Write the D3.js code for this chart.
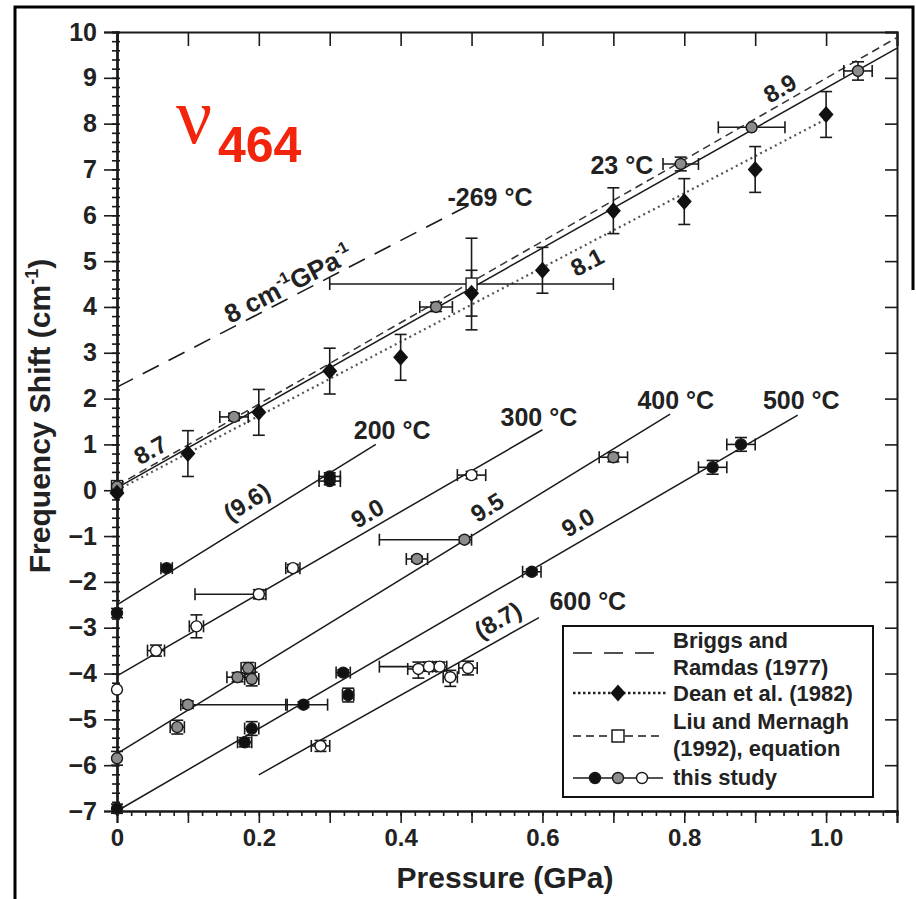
<!DOCTYPE html>
<html><head><meta charset="utf-8">
<script src="https://cdn.jsdelivr.net/npm/d3@7"></script>
<style>
body{margin:0;background:#fff;}
</style></head><body>
<svg id="c" width="916" height="899"></svg>
<script>
// ---------------- DATA ----------------
const xTicksMajor = [0,0.1,0.2,0.3,0.4,0.5,0.6,0.7,0.8,0.9,1.0,1.1];
const xTickLabels = [0,0.2,0.4,0.6,0.8,1.0];
const yTicks = [-7,-6,-5,-4,-3,-2,-1,0,1,2,3,4,5,6,7,8,9,10];

// reference lines [pressure GPa, shift cm-1]
const briggsLine = [[0,2.25],[0.5,6.25]];
const deanLine   = [[0,0.0],[1.0,8.1]];
const liuLine    = [[0,0.1],[1.1,9.88]];
// this-study fits per temperature
const fit23  = [[0,0.05],[1.1,9.65]];
const fit200 = [[0,-2.5],[0.365,1.0]];
const fit300 = [[0,-4.05],[0.6,1.32]];
const fit400 = [[0,-5.75],[0.78,1.66]];
const fit500 = [[0,-7.0],[0.96,1.64]];
const fit600 = [[0.2,-6.21],[0.595,-2.78]];

// Dean et al. (1982): [P, shift, yErr]
const deanPts = [[0,-0.06,0],[0.1,0.8,0.5],[0.2,1.7,0.5],[0.3,2.6,0.5],[0.4,2.9,0.5],[0.5,4.3,0.5],[0.6,4.8,0.5],[0.7,6.1,0.5],[0.8,6.3,0.5],[0.9,7.0,0.5],[1.0,8.2,0.5]];
// Liu and Mernagh (1992): [P, shift, xErrL, xErrR, yErrD, yErrU]
const liuPts = [[0,0.08,0,0,0,0],[0.5,4.5,0.2,0.2,1.0,1.0]];
// this study: [P, shift, xErrL, xErrR, yErrD, yErrU]
const pts23 = [[0,0.08,0,0,0,0],[0.165,1.6,0.02,0.02,0.08,0.08],[0.45,4.0,0.023,0.023,0.1,0.1],[0.795,7.12,0.025,0.025,0.15,0.15],[0.895,7.92,0.047,0.047,0,0],[1.045,9.15,0.02,0.02,0.2,0.2]];
const pts200 = [[0,-2.68,0,0,0.1,0.1],[0.07,-1.7,0.008,0.008,0.06,0.06],[0.3,0.2,0.015,0.015,0.08,0.08],[0.3,0.3,0.015,0.015,0.08,0.08]];
const pts300 = [[0,-4.35,0,0,0,0],[0.055,-3.5,0.012,0.012,0.12,0.12],[0.112,-2.97,0.01,0.01,0.25,0.25],[0.2,-2.27,0.09,0.01,0.1,0.1],[0.248,-1.7,0.01,0.01,0.08,0.08],[0.5,0.33,0.02,0.02,0.08,0.08]];
const pts400 = [[0,-5.85,0,0,0.15,0.15],[0.085,-5.17,0.01,0.01,0.15,0.15],[0.1,-4.68,0.01,0.14,0.08,0.08],[0.17,-4.08,0.015,0.015,0.1,0.1],[0.185,-3.88,0.01,0.01,0.12,0.12],[0.19,-4.12,0.01,0.01,0.15,0.15],[0.423,-1.5,0.015,0.015,0.06,0.06],[0.49,-1.08,0.12,0.01,0.06,0.06],[0.70,0.72,0.02,0.02,0.1,0.1]];
const pts500 = [[0,-6.95,0,0,0.1,0.1],[0.18,-5.5,0.01,0.01,0.1,0.1],[0.19,-5.2,0.01,0.01,0.15,0.15],[0.263,-4.68,0.025,0.034,0.06,0.06],[0.319,-3.98,0.01,0.01,0.06,0.06],[0.326,-4.47,0.008,0.008,0.15,0.15],[0.585,-1.78,0.013,0.013,0.06,0.06],[0.84,0.5,0.02,0.02,0.15,0.15],[0.88,1.0,0.02,0.02,0.15,0.15]];
const pts600 = [[0.287,-5.58,0.013,0.013,0.12,0.12],[0.425,-3.9,0.015,0.015,0.2,0.15],[0.44,-3.85,0.07,0.01,0.1,0.1],[0.455,-3.85,0.01,0.01,0.1,0.1],[0.47,-4.08,0.01,0.01,0.2,0.15],[0.495,-3.88,0.013,0.013,0.15,0.15]];

const slopeLabels = [
  {t:"8.7",  p:0.047, v:0.88,  s:8.7},
  {t:"8.9",  p:0.935, v:8.77,  s:8.9},
  {t:"8.1",  p:0.663, v:4.98,  s:8.1},
  {t:"(9.6)",p:0.183, v:-0.25, s:9.6},
  {t:"9.0",  p:0.353, v:-0.5,  s:9.0},
  {t:"9.5",  p:0.522, v:-0.37, s:9.5},
  {t:"9.0",  p:0.65,  v:-0.7,  s:9.0},
  {t:"(8.7)",p:0.537, v:-2.83, s:8.7}
];
const tempLabels = [
  {t:"-269 °C", p:0.526, v:6.4},
  {t:"23 °C",  p:0.712, v:7.1},
  {t:"200 °C", p:0.388, v:1.31},
  {t:"300 °C", p:0.595, v:1.6},
  {t:"400 °C", p:0.788, v:1.97},
  {t:"500 °C", p:0.965, v:1.97},
  {t:"600 °C", p:0.664, v:-2.42}
];

// ---------------- DRAW ----------------
const svg = d3.select("#c");
const x = d3.scaleLinear().domain([0,1.1]).range([117,897]);
const y = d3.scaleLinear().domain([-7,10]).range([811,32]);
const ink = "#1a1a1a";
const GREY = "#8c8c8c";
const SANS = "Liberation Sans, Arial, sans-serif";

function txt(sel){ return sel.style("font-family",SANS).style("font-weight","bold").style("fill","#222"); }

// outer frame
svg.append("path").attr("d","M15,899V7H913V290").attr("fill","none").attr("stroke","#000").attr("stroke-width",3);

// axes
function styleAxis(g){ g.select(".domain").attr("stroke",ink).attr("stroke-width",2); g.selectAll(".tick line").attr("stroke",ink).attr("stroke-width",1.6); }
const minorX = d3.range(0,1.1001,0.02).map(d=>+d.toFixed(2));
const minorY = d3.range(-7,10.001,0.2).map(d=>+d.toFixed(1));

// bottom
svg.append("g").attr("transform","translate(0,811)").call(d3.axisBottom(x).tickValues(minorX).tickSize(5).tickFormat("")).call(styleAxis);
svg.append("g").attr("transform","translate(0,811)").call(d3.axisBottom(x).tickValues(xTicksMajor).tickSize(12).tickFormat("")).call(styleAxis);
svg.append("g").attr("transform","translate(0,811)").call(d3.axisBottom(x).tickValues(xTickLabels).tickSize(0).tickPadding(18).tickFormat(d=>d===0?"0":d3.format(".1f")(d)))
  .call(g=>{g.select(".domain").remove(); txt(g.selectAll("text")).attr("font-size",24);});
// top
svg.append("g").attr("transform","translate(0,32)").call(d3.axisTop(x).tickValues(xTicksMajor).tickSize(-14).tickFormat("")).call(styleAxis);
// left
svg.append("g").attr("transform","translate(117,0)").call(d3.axisLeft(y).tickValues(minorY).tickSize(5).tickFormat("")).call(styleAxis);
svg.append("g").attr("transform","translate(117,0)").call(d3.axisLeft(y).tickValues(minorY).tickSize(-3).tickFormat("")).call(styleAxis);
svg.append("g").attr("transform","translate(117,0)").call(d3.axisLeft(y).tickValues(yTicks).tickSize(13).tickPadding(7).tickFormat(d3.format("d"))).call(styleAxis)
  .call(g=>txt(g.selectAll("text")).attr("font-size",25));
// right
svg.append("g").attr("transform","translate(897,0)").call(d3.axisRight(y).tickValues(yTicks).tickSize(-12).tickFormat("")).call(styleAxis);

// axis titles
txt(svg.append("text")).attr("x",505).attr("y",888).attr("text-anchor","middle").attr("font-size",30).text("Pressure (GPa)");
const yt = txt(svg.append("text")).attr("transform","translate(50,416) rotate(-90)").attr("text-anchor","middle").attr("font-size",30);
yt.append("tspan").text("Frequency Shift (cm");
yt.append("tspan").attr("font-size",18).attr("dy",-12).text("-1");
yt.append("tspan").attr("dy",12).text(")");

const line = d3.line().x(d=>x(d[0])).y(d=>y(d[1]));
const plot = svg.append("g");

// reference lines
plot.append("path").datum(briggsLine).attr("d",line).attr("fill","none").attr("stroke",ink).attr("stroke-width",1.6).attr("stroke-dasharray","18,11");
plot.append("path").datum(deanLine).attr("d",line).attr("fill","none").attr("stroke","#555").attr("stroke-width",2.2).attr("stroke-dasharray","2,3.5");
plot.append("path").datum(liuLine).attr("d",line).attr("fill","none").attr("stroke","#333").attr("stroke-width",1.5).attr("stroke-dasharray","8,5");
[fit23,fit200,fit300,fit400,fit500,fit600].forEach(f=>{
  plot.append("path").datum(f).attr("d",line).attr("fill","none").attr("stroke",ink).attr("stroke-width",1.5);
});

// error bars
function errBars(data, cap){
  data.forEach(d=>{
    const [p,v,exl,exr,eyd,eyu] = d;
    const g = plot.append("g").attr("stroke",ink).attr("stroke-width",1.6).attr("fill","none");
    if(exl||exr){
      g.append("line").attr("x1",x(p-exl)).attr("x2",x(p+exr)).attr("y1",y(v)).attr("y2",y(v));
      if(exl) g.append("line").attr("x1",x(p-exl)).attr("x2",x(p-exl)).attr("y1",y(v)-cap).attr("y2",y(v)+cap);
      if(exr) g.append("line").attr("x1",x(p+exr)).attr("x2",x(p+exr)).attr("y1",y(v)-cap).attr("y2",y(v)+cap);
    }
    if(eyd||eyu){
      g.append("line").attr("y1",y(v-eyd)).attr("y2",y(v+eyu)).attr("x1",x(p)).attr("x2",x(p));
      if(eyd) g.append("line").attr("y1",y(v-eyd)).attr("y2",y(v-eyd)).attr("x1",x(p)-cap).attr("x2",x(p)+cap);
      if(eyu) g.append("line").attr("y1",y(v+eyu)).attr("y2",y(v+eyu)).attr("x1",x(p)-cap).attr("x2",x(p)+cap);
    }
  });
}
errBars(deanPts.map(d=>[d[0],d[1],0,0,d[2],d[2]]), 6);
errBars(liuPts, 6);
[pts23,pts200,pts300,pts400,pts500,pts600].forEach(s=>errBars(s,6));

// markers
function circles(data, fill){
  plot.append("g").selectAll("circle").data(data).join("circle")
    .attr("cx",d=>x(d[0])).attr("cy",d=>y(d[1])).attr("r",5.5)
    .attr("fill",fill).attr("stroke",ink).attr("stroke-width",1.4);
}
const diamondPath = "M0,-8.5L7.5,0L0,8.5L-7.5,0Z";
plot.append("g").selectAll("rect").data(liuPts).join("rect")
  .attr("x",d=>x(d[0])-5.5).attr("y",d=>y(d[1])-6).attr("width",11).attr("height",12)
  .attr("fill","#fff").attr("stroke",ink).attr("stroke-width",1.4);
circles(pts23, GREY);
plot.append("g").selectAll("path").data(deanPts).join("path")
  .attr("transform",d=>`translate(${x(d[0])},${y(d[1])})`).attr("d",diamondPath).attr("fill","#111");
circles(pts200, "#111");
circles(pts300, "#fff");
circles(pts400, GREY);
circles(pts500, "#111");
circles(pts600, "#fff");

// slope labels
const pxSlope = s => -Math.atan(s*(y(0)-y(1))/(x(1)-x(0)))*180/Math.PI;
slopeLabels.forEach(l=>{
  txt(svg.append("text")).attr("transform",`translate(${x(l.p)},${y(l.v)}) rotate(${pxSlope(l.s)})`)
    .attr("text-anchor","middle").attr("dominant-baseline","central").attr("font-size",24).text(l.t);
});
// 8 cm-1 GPa-1 label
{
  const p = 0.25, v = 4.25;
  const t = txt(svg.append("text")).attr("transform",`translate(${x(p)},${y(v)}) rotate(${pxSlope(8)})`)
    .attr("text-anchor","middle").attr("dy",-4).attr("font-size",26);
  t.append("tspan").text("8 cm");
  t.append("tspan").attr("font-size",16).attr("dy",-11).text("-1");
  t.append("tspan").attr("dy",11).text("GPa");
  t.append("tspan").attr("font-size",16).attr("dy",-11).text("-1");
}
tempLabels.forEach(l=>{
  txt(svg.append("text")).attr("x",x(l.p)).attr("y",y(l.v)).attr("text-anchor","middle").attr("dominant-baseline","central").attr("font-size",25).text(l.t);
});

// nu 464
svg.append("text").attr("x",176).attr("y",143).style("font-family","Liberation Serif, Times New Roman, serif").style("font-weight","normal").attr("font-size",80).style("fill","#f2240c").text("ν");
svg.append("text").attr("x",218).attr("y",162).style("font-family",SANS).style("font-weight","bold").attr("font-size",50).style("fill","#f2240c").text("464");

// legend
const lg = svg.append("g");
lg.append("rect").attr("x",563).attr("y",626).attr("width",310).attr("height",171).attr("fill","#fff").attr("stroke","#111").attr("stroke-width",2);
const lx0 = 573, lx1 = 663, tx = 673;
lg.append("line").attr("x1",lx0).attr("x2",lx1).attr("y1",653).attr("y2",653).attr("stroke",ink).attr("stroke-width",1.6).attr("stroke-dasharray","19,12");
lg.append("line").attr("x1",lx0).attr("x2",lx1+3).attr("y1",693).attr("y2",693).attr("stroke","#222").attr("stroke-width",2.6).attr("stroke-dasharray","2.5,2.5");
lg.append("path").attr("transform","translate(618,693)").attr("d",diamondPath).attr("fill","#111");
lg.append("line").attr("x1",lx0).attr("x2",lx1).attr("y1",736).attr("y2",736).attr("stroke",ink).attr("stroke-width",1.5).attr("stroke-dasharray","8,5");
lg.append("rect").attr("x",612).attr("y",730).attr("width",12).attr("height",12).attr("fill","#fff").attr("stroke",ink).attr("stroke-width",1.5);
lg.append("line").attr("x1",lx0).attr("x2",lx1).attr("y1",778).attr("y2",778).attr("stroke",ink).attr("stroke-width",1.5);
[["#111",595],[GREY,618],["#fff",642]].forEach(c=>lg.append("circle").attr("cx",c[1]).attr("cy",778).attr("r",5.5).attr("fill",c[0]).attr("stroke",ink).attr("stroke-width",1.4));
const legTexts = [["Briggs and",648],["Ramdas (1977)",675],["Dean et al. (1982)",701],["Liu and Mernagh",729],["(1992), equation",756],["this study",785]];
legTexts.forEach(t=>txt(lg.append("text")).attr("x",tx).attr("y",t[1]).attr("font-size",22).text(t[0]));
</script>
</body></html>
